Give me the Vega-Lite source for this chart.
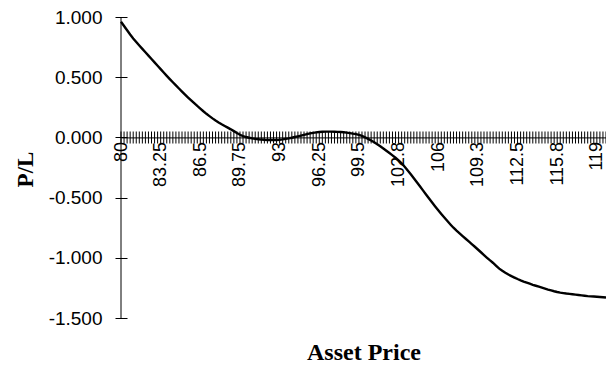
{
  "$schema": "https://vega.github.io/schema/vega-lite/v6.json",
  "width": 485,
  "height": 301,
  "autosize": "none",
  "padding": {"left": 121, "top": 17, "right": 0, "bottom": 48},
  "background": "white",
  "config": {"view": {"stroke": null}},
  "data": {
    "values": [
      {"price": 80.00, "pl": 0.960}, {"price": 80.25, "pl": 0.925}, {"price": 80.50, "pl": 0.890}, {"price": 80.75, "pl": 0.855},
      {"price": 81.00, "pl": 0.822}, {"price": 81.25, "pl": 0.792}, {"price": 81.50, "pl": 0.763}, {"price": 81.75, "pl": 0.735},
      {"price": 82.00, "pl": 0.707}, {"price": 82.25, "pl": 0.679}, {"price": 82.50, "pl": 0.651}, {"price": 82.75, "pl": 0.623},
      {"price": 83.00, "pl": 0.595}, {"price": 83.25, "pl": 0.567}, {"price": 83.50, "pl": 0.539}, {"price": 83.75, "pl": 0.511},
      {"price": 84.00, "pl": 0.484}, {"price": 84.25, "pl": 0.458}, {"price": 84.50, "pl": 0.432}, {"price": 84.75, "pl": 0.406},
      {"price": 85.00, "pl": 0.380}, {"price": 85.25, "pl": 0.355}, {"price": 85.50, "pl": 0.331}, {"price": 85.75, "pl": 0.307},
      {"price": 86.00, "pl": 0.284}, {"price": 86.25, "pl": 0.261}, {"price": 86.50, "pl": 0.239}, {"price": 86.75, "pl": 0.217},
      {"price": 87.00, "pl": 0.196}, {"price": 87.25, "pl": 0.177}, {"price": 87.50, "pl": 0.158}, {"price": 87.75, "pl": 0.140},
      {"price": 88.00, "pl": 0.124}, {"price": 88.25, "pl": 0.109}, {"price": 88.50, "pl": 0.095}, {"price": 88.75, "pl": 0.081},
      {"price": 89.00, "pl": 0.067}, {"price": 89.25, "pl": 0.052}, {"price": 89.50, "pl": 0.036}, {"price": 89.75, "pl": 0.022},
      {"price": 90.00, "pl": 0.011}, {"price": 90.25, "pl": 0.003}, {"price": 90.50, "pl": -0.003}, {"price": 90.75, "pl": -0.008},
      {"price": 91.00, "pl": -0.012}, {"price": 91.25, "pl": -0.015}, {"price": 91.50, "pl": -0.018}, {"price": 91.75, "pl": -0.020},
      {"price": 92.00, "pl": -0.021}, {"price": 92.25, "pl": -0.022}, {"price": 92.50, "pl": -0.022}, {"price": 92.75, "pl": -0.021},
      {"price": 93.00, "pl": -0.019}, {"price": 93.25, "pl": -0.016}, {"price": 93.50, "pl": -0.012}, {"price": 93.75, "pl": -0.008},
      {"price": 94.00, "pl": -0.003}, {"price": 94.25, "pl": 0.003}, {"price": 94.50, "pl": 0.009}, {"price": 94.75, "pl": 0.015},
      {"price": 95.00, "pl": 0.021}, {"price": 95.25, "pl": 0.027}, {"price": 95.50, "pl": 0.033}, {"price": 95.75, "pl": 0.038},
      {"price": 96.00, "pl": 0.042}, {"price": 96.25, "pl": 0.045}, {"price": 96.50, "pl": 0.047}, {"price": 96.75, "pl": 0.048},
      {"price": 97.00, "pl": 0.048}, {"price": 97.25, "pl": 0.048}, {"price": 97.50, "pl": 0.047}, {"price": 97.75, "pl": 0.046},
      {"price": 98.00, "pl": 0.045}, {"price": 98.25, "pl": 0.043}, {"price": 98.50, "pl": 0.040}, {"price": 98.75, "pl": 0.036},
      {"price": 99.00, "pl": 0.031}, {"price": 99.25, "pl": 0.027}, {"price": 99.50, "pl": 0.021}, {"price": 99.75, "pl": 0.012},
      {"price": 100.00, "pl": 0.001}, {"price": 100.25, "pl": -0.012}, {"price": 100.50, "pl": -0.026}, {"price": 100.75, "pl": -0.041},
      {"price": 101.00, "pl": -0.057}, {"price": 101.25, "pl": -0.074}, {"price": 101.50, "pl": -0.092}, {"price": 101.75, "pl": -0.111},
      {"price": 102.00, "pl": -0.130}, {"price": 102.25, "pl": -0.149}, {"price": 102.50, "pl": -0.169}, {"price": 102.75, "pl": -0.190},
      {"price": 103.00, "pl": -0.215}, {"price": 103.25, "pl": -0.244}, {"price": 103.50, "pl": -0.275}, {"price": 103.75, "pl": -0.307},
      {"price": 104.00, "pl": -0.340}, {"price": 104.25, "pl": -0.373}, {"price": 104.50, "pl": -0.406}, {"price": 104.75, "pl": -0.440},
      {"price": 105.00, "pl": -0.474}, {"price": 105.25, "pl": -0.508}, {"price": 105.50, "pl": -0.541}, {"price": 105.75, "pl": -0.573},
      {"price": 106.00, "pl": -0.605}, {"price": 106.25, "pl": -0.636}, {"price": 106.50, "pl": -0.666}, {"price": 106.75, "pl": -0.695},
      {"price": 107.00, "pl": -0.723}, {"price": 107.25, "pl": -0.750}, {"price": 107.50, "pl": -0.775}, {"price": 107.75, "pl": -0.798},
      {"price": 108.00, "pl": -0.820}, {"price": 108.25, "pl": -0.842}, {"price": 108.50, "pl": -0.864}, {"price": 108.75, "pl": -0.886},
      {"price": 109.00, "pl": -0.908}, {"price": 109.25, "pl": -0.931}, {"price": 109.50, "pl": -0.954}, {"price": 109.75, "pl": -0.977},
      {"price": 110.00, "pl": -1.000}, {"price": 110.25, "pl": -1.022}, {"price": 110.50, "pl": -1.043}, {"price": 110.75, "pl": -1.067},
      {"price": 111.00, "pl": -1.090}, {"price": 111.25, "pl": -1.108}, {"price": 111.50, "pl": -1.124}, {"price": 111.75, "pl": -1.139},
      {"price": 112.00, "pl": -1.152}, {"price": 112.25, "pl": -1.164}, {"price": 112.50, "pl": -1.176}, {"price": 112.75, "pl": -1.187},
      {"price": 113.00, "pl": -1.197}, {"price": 113.25, "pl": -1.206}, {"price": 113.50, "pl": -1.215}, {"price": 113.75, "pl": -1.224},
      {"price": 114.00, "pl": -1.232}, {"price": 114.25, "pl": -1.240}, {"price": 114.50, "pl": -1.248}, {"price": 114.75, "pl": -1.256},
      {"price": 115.00, "pl": -1.264}, {"price": 115.25, "pl": -1.271}, {"price": 115.50, "pl": -1.278}, {"price": 115.75, "pl": -1.284},
      {"price": 116.00, "pl": -1.289}, {"price": 116.25, "pl": -1.293}, {"price": 116.50, "pl": -1.297}, {"price": 116.75, "pl": -1.300},
      {"price": 117.00, "pl": -1.303}, {"price": 117.25, "pl": -1.306}, {"price": 117.50, "pl": -1.309}, {"price": 117.75, "pl": -1.312},
      {"price": 118.00, "pl": -1.315}, {"price": 118.25, "pl": -1.318}, {"price": 118.50, "pl": -1.320}, {"price": 118.75, "pl": -1.322},
      {"price": 119.00, "pl": -1.324}, {"price": 119.25, "pl": -1.326}, {"price": 119.50, "pl": -1.328}, {"price": 119.75, "pl": -1.330}
    ]
  },
  "encoding": {
    "x": {
      "field": "price",
      "type": "quantitative",
      "scale": {"domain": [80, 119.75], "nice": false, "zero": false},
      "axis": {
        "orient": "bottom",
        "offset": -180.6,
        "values": [80, 83.25, 86.5, 89.75, 93, 96.25, 99.5, 102.75, 106, 109.25, 112.5, 115.75, 119],
        "grid": false,
        "ticks": false,
        "domain": true,
        "domainColor": "black",
        "domainWidth": 1,
        "labelAngle": -90,
        "labelAlign": "right",
        "labelBaseline": "middle",
        "labelPadding": 4,
        "labelFont": "Liberation Sans",
        "labelFontSize": 18,
        "labelColor": "black",
        "labelExpr": "format(datum.value, '.4~r')",
        "labelOverlap": false,
        "labelFlush": false,
        "labelBound": false,
        "title": "Asset Price",
        "titleFont": "Liberation Serif",
        "titleFontSize": 24,
        "titleFontWeight": "bold",
        "titleColor": "black",
        "titleX": 242.5,
        "titleY": 222,
        "titleAlign": "center",
        "titleBaseline": "alphabetic"
      }
    }
  },
  "layer": [
    {
      "data": {"values": [{"price": 80}]},
      "mark": {"type": "rule", "color": "black", "strokeWidth": 1},
      "encoding": {}
    },
    {
      "mark": {"type": "line", "color": "black", "strokeWidth": 2.4, "clip": false},
      "encoding": {
        "y": {
          "field": "pl",
          "type": "quantitative",
          "scale": {"domain": [-1.5, 1], "nice": false, "zero": false},
          "axis": {
            "orient": "left",
            "offset": -6,
            "values": [-1.5, -1, -0.5, 0, 0.5, 1],
            "grid": false,
            "domain": false,
            "ticks": true,
            "tickSize": 12,
            "tickColor": "black",
            "tickWidth": 1,
            "labelPadding": 13,
            "labelFont": "Liberation Sans",
            "labelFontSize": 19,
            "labelColor": "black",
            "labelExpr": "(datum.value < 0 ? '-' : '') + format(abs(datum.value), '.3f')",
            "labelFlush": false,
            "labelBound": false,
            "labelOverlap": false,
            "title": "P/L",
            "titleFont": "Liberation Serif",
            "titleFontSize": 23,
            "titleFontWeight": "bold",
            "titleColor": "black",
            "titleAngle": -90,
            "titleX": -102,
            "titleY": 152,
            "titleAlign": "center",
            "titleBaseline": "middle"
          }
        }
      }
    },
    {
      "mark": {"type": "tick", "orient": "vertical", "color": "black", "size": 12, "thickness": 1, "opacity": 1},
      "encoding": {
        "y": {"datum": 0, "type": "quantitative"}
      }
    }
  ]
}
